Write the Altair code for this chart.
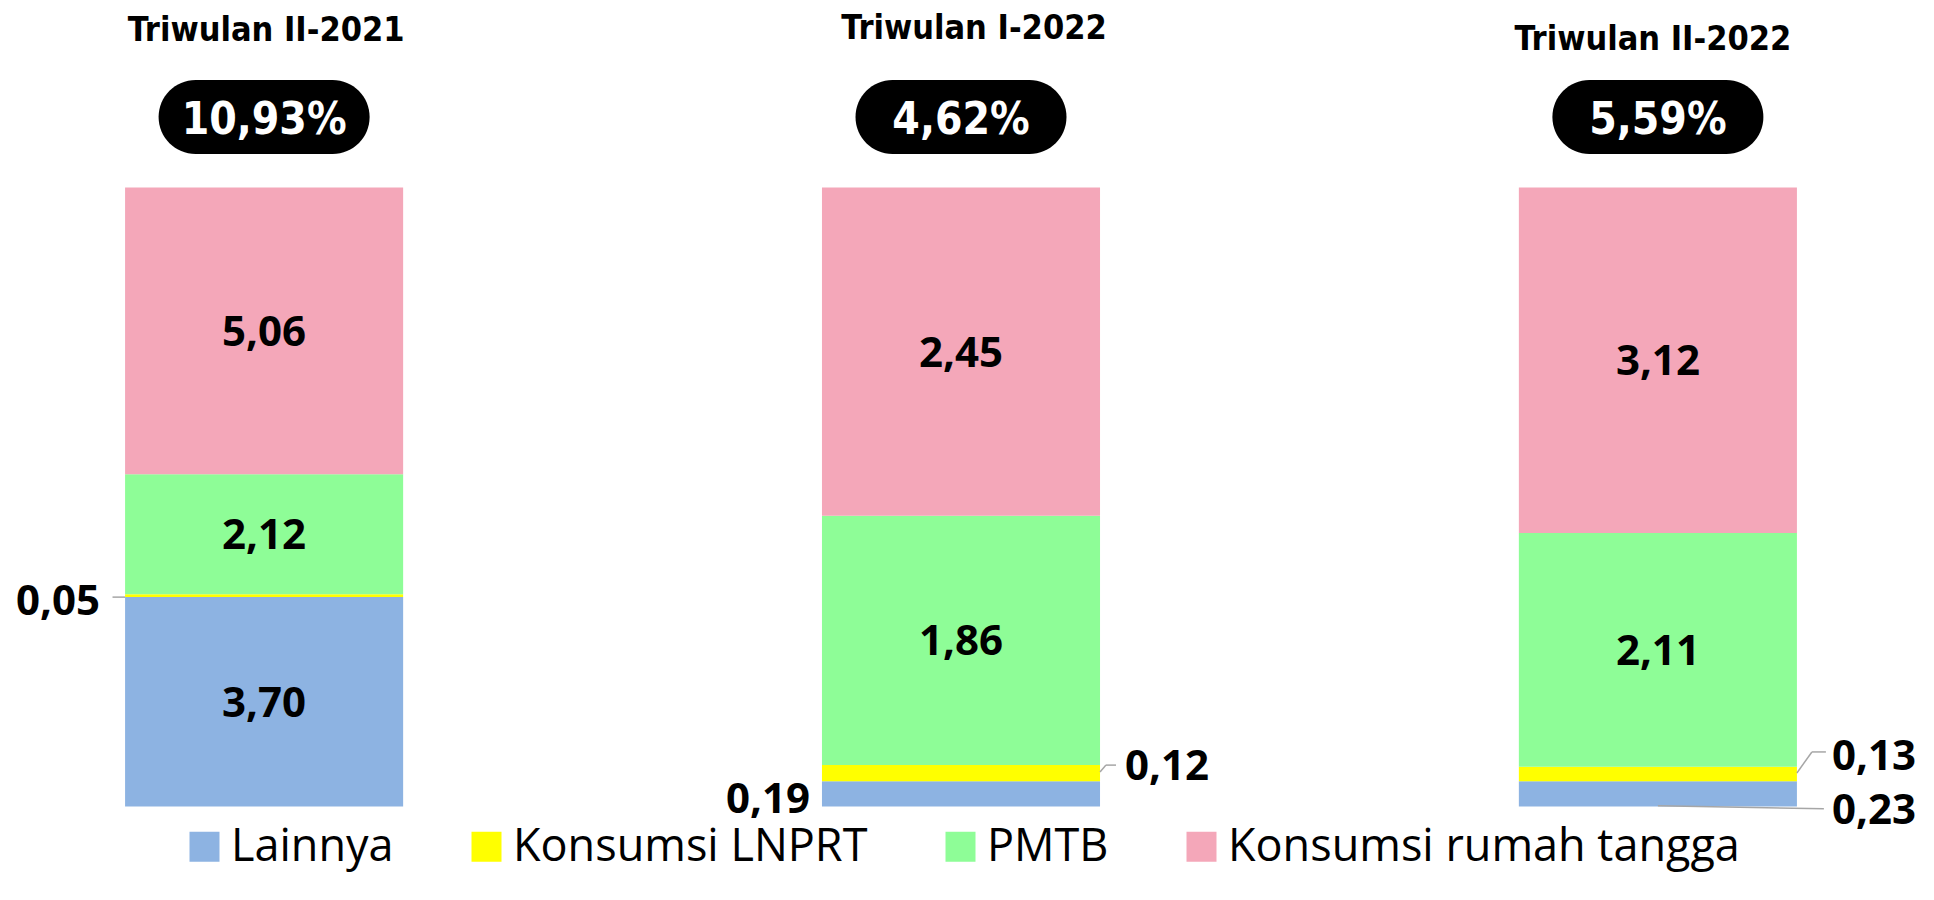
import altair as alt
import pandas as pd

# ---------------- data ----------------
periods = ["Triwulan II-2021", "Triwulan I-2022", "Triwulan II-2022"]
components = ["Lainnya", "Konsumsi LNPRT", "PMTB", "Konsumsi rumah tangga"]
lainnya = [3.70, 0.19, 0.23]
lnprt = [0.05, 0.12, 0.13]
pmtb = [2.12, 1.86, 2.11]
rumah_tangga = [5.06, 2.45, 3.12]
growth = [10.93, 4.62, 5.59]

colors = ["#8DB3E2", "#FFFF00", "#8EFD97", "#F4A7B9"]


def fmt(v, suffix=""):
    return f"{v:.2f}".replace(".", ",") + suffix


rows = []
for i, p in enumerate(periods):
    for j, (c, series) in enumerate(zip(components, [lainnya, lnprt, pmtb, rumah_tangga])):
        v = series[i]
        rows.append(dict(period=p, component=c, order=j, value=v, label=fmt(v)))
df = pd.DataFrame(rows)
tot = pd.DataFrame(dict(period=periods, growth=growth, glabel=[fmt(g, "%") for g in growth]))

# ---------------- layout ----------------
# plot area also holds the legend below the bars (negative part of the y domain)
W, H = 1906, 882
xenc = alt.X("period:N", sort=periods, axis=None,
             scale=alt.Scale(paddingInner=0.601, paddingOuter=0.168))
yscale = alt.Scale(domain=[-0.1347, 1.29], nice=False, zero=False)

TITLE_POS = [(2, 32.7), (13, 31), (-5, 42)]  # (dx, baseline y) per period title

# callouts for small segments: align, dx, dy, leader segments relative to (band centre, segment mid)
CALLOUTS = [
    ("Triwulan II-2021", "Konsumsi LNPRT", "right", -164, 19.5, [(-151.6, 1.5, -139, 1.5)]),
    ("Triwulan I-2022", "Lainnya", "right", -151, 19, []),
    ("Triwulan I-2022", "Konsumsi LNPRT", "left", 164, 7, [(139, -1, 145, -8), (145, -8, 155, -8)]),
    ("Triwulan II-2022", "Konsumsi LNPRT", "left", 174, -4, [(139, -1, 154, -22), (154, -22, 168, -22)]),
    ("Triwulan II-2022", "Lainnya", "left", 174, 30, [(0, 12, 166, 15)]),
]

LABEL_FONT = "Open Sans"
base = (
    alt.Chart(df)
    .transform_stack(stack="value", groupby=["period"], offset="normalize",
                     sort=[alt.SortField("order", "ascending")], as_=["y0", "y1"])
    .transform_calculate(mid="(datum.y0 + datum.y1) / 2")
)

bars = base.mark_bar().encode(
    x=xenc,
    y=alt.Y("y0:Q", scale=yscale, axis=None),
    y2="y1:Q",
    color=alt.Color(
        "component:N",
        scale=alt.Scale(domain=components, range=colors),
        legend=alt.Legend(
            orient="none", legendX=174, legendY=816, direction="horizontal",
            title=None, symbolType="square", symbolSize=900, symbolStrokeWidth=0,
            labelFont=LABEL_FONT, labelFontSize=45, labelColor="black",
            labelOffset=4, columnPadding=70, padding=0, labelLimit=1000,
        ),
    ),
)

inside = base.transform_filter("datum.value >= 1").mark_text(
    font=LABEL_FONT, fontWeight="bold", fontSize=42, baseline="alphabetic", dy=15, color="black"
).encode(x=xenc, y=alt.Y("mid:Q", scale=yscale), text="label:N")

layers = [bars, inside]

for p, c, align, dx, dy, leaders in CALLOUTS:
    sel = base.transform_filter(f"datum.period == '{p}' && datum.component == '{c}'")
    for (x1, y1, x2, y2) in leaders:
        layers.append(
            sel.mark_rule(color="#A6A6A6", strokeWidth=1.5,
                          xOffset=x1, x2Offset=x2, yOffset=y1, y2Offset=y2)
            .encode(x=xenc, x2=alt.X2("period:N"),
                    y=alt.Y("mid:Q", scale=yscale), y2=alt.Y2("mid:Q"))
        )
    layers.append(
        sel.mark_text(font=LABEL_FONT, fontWeight="bold", fontSize=42, baseline="alphabetic",
                      align=align, dx=dx, dy=dy, color="black")
        .encode(x=xenc, y=alt.Y("mid:Q", scale=yscale), text="label:N")
    )

# badges with totals
badge = alt.Chart(tot).mark_bar(color="black", width=211, cornerRadius=37).encode(
    x=xenc, y=alt.value(72), y2=alt.value(146)
)
badge_text = alt.Chart(tot).mark_text(
    color="white", font="DejaVu Sans Condensed",
    fontWeight="bold", fontSize=44, baseline="alphabetic"
).encode(x=xenc, y=alt.value(126), text="glabel:N")
layers += [badge, badge_text]

# period titles
for i, p in enumerate(periods):
    dx, yb = TITLE_POS[i]
    layers.append(
        alt.Chart(tot).transform_filter(f"datum.period == '{p}'")
        .mark_text(font="DejaVu Sans Condensed", fontWeight="bold", fontSize=34,
                   baseline="alphabetic", dx=dx, color="black")
        .encode(x=xenc, y=alt.value(yb), text="period:N")
    )

chart = (
    alt.layer(*layers)
    .properties(width=W, height=H, padding=0)
    .configure_view(strokeWidth=0)
)

chart.save("out.html", embed_options={"renderer": "svg", "actions": False})
